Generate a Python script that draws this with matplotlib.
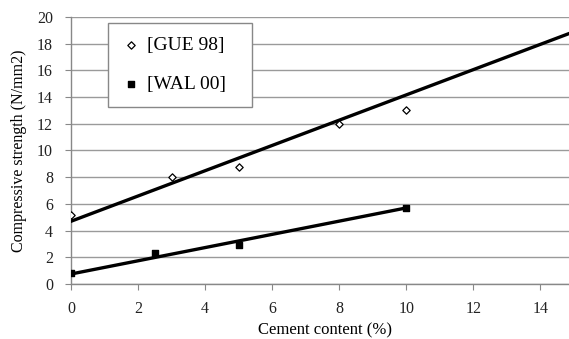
import matplotlib.pyplot as plt

plt.rcParams['font.family'] = ['Liberation Serif', 'DejaVu Serif']

# measured points
gue_x = [0, 3, 5, 8, 10]
gue_y = [5.2, 8.0, 8.8, 12.0, 13.0]
wal_x = [0, 2.5, 5, 10]
wal_y = [0.8, 2.3, 2.9, 5.7]

# trend lines (start/end)
gue_trend_x = [0, 15]
gue_trend_y = [4.7, 18.9]
wal_trend_x = [0, 10]
wal_trend_y = [0.75, 5.7]

x_ticks = [0, 2, 4, 6, 8, 10, 12, 14]
y_ticks = [0, 2, 4, 6, 8, 10, 12, 14, 16, 18, 20]

fig = plt.figure(figsize=(5.69, 3.39), dpi=100)
ax = fig.add_axes([0.1248, 0.1622, 0.8752, 0.7877])

ax.plot(gue_trend_x, gue_trend_y, color='black', lw=2.4, zorder=3)
ax.plot(wal_trend_x, wal_trend_y, color='black', lw=2.4, zorder=3)
gue = ax.scatter(gue_x, gue_y, marker='D', s=14, facecolors='white',
                 edgecolors='black', linewidths=0.9, zorder=4, label='[GUE 98]')
wal = ax.scatter(wal_x, wal_y, marker='s', s=24, color='black', zorder=4,
                 label='[WAL 00]')

ax.set_xlim(0, 14.85)
ax.set_ylim(0, 20)
ax.set_xticks(x_ticks)
ax.set_yticks(y_ticks)
ax.tick_params(labelsize=11.5, labelcolor='#222222', color='#888888',
               length=4, width=0.8)
ax.tick_params(axis='x', pad=8)
ax.tick_params(axis='y', pad=9)
ax.yaxis.grid(True, color='#9a9a9a', lw=1.0)
ax.set_axisbelow(True)
for s in ['top', 'right']:
    ax.spines[s].set_visible(False)
for s in ['left', 'bottom']:
    ax.spines[s].set_color('#888888')
    ax.spines[s].set_linewidth(1.0)

ax.set_xlabel('Cement content (%)', fontsize=12, va='center')
ax.xaxis.set_label_coords(0.51, -0.175)
ax.set_ylabel('Compressive strength (N/mm2)', fontsize=11.5, va='center')
ax.yaxis.set_label_coords(-0.104, 0.5)

leg = ax.legend(handles=[gue, wal], loc='upper left',
                bbox_to_anchor=(0.0743, 0.5, 0.289, 0.478), mode='expand',
                fontsize=14, frameon=True, fancybox=False,
                edgecolor='#888888', framealpha=1, borderpad=0.7,
                labelspacing=1.1, handlelength=1.0, handletextpad=0.3,
                borderaxespad=0)
leg.get_frame().set_linewidth(1.0)

fig.savefig('out.png', dpi=100)
